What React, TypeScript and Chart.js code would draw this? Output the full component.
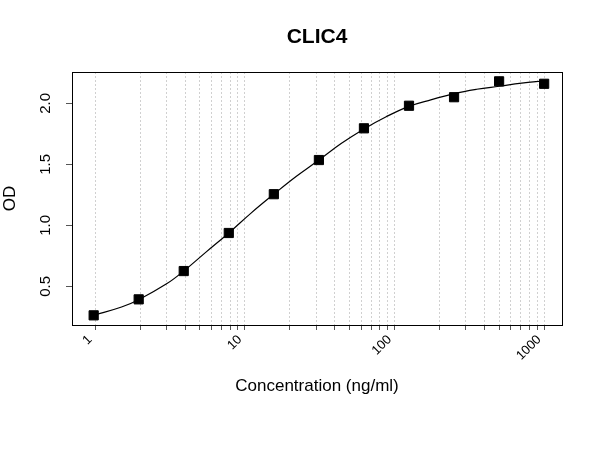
import React, { useEffect, useRef } from 'react';
import Chart from 'chart.js/auto';

// standard curve points (ng/ml, OD)
const concentrations = [1000, 500, 250, 125, 62.5, 31.25, 15.625, 7.8125, 3.906, 1.953, 0.977];
const odValues = [2.16, 2.18, 2.05, 1.98, 1.795, 1.535, 1.255, 0.937, 0.625, 0.393, 0.262];

// fitted curve
const curveX = [0.977, 1.5, 1.953, 3, 3.906, 5.5, 7.8125, 11, 15.625, 22, 31.25, 44, 62.5, 88, 125, 177, 250, 354, 500, 707, 1000];
const curveY = [0.262, 0.33, 0.39, 0.52, 0.625, 0.78, 0.937, 1.1, 1.255, 1.4, 1.535, 1.67, 1.79, 1.89, 1.975, 2.03, 2.08, 2.115, 2.14, 2.165, 2.185];

const xGridTicks = [1, 2, 3, 4, 5, 6, 7, 8, 9, 10, 20, 30, 40, 50, 60, 70, 80, 90, 100, 200, 300, 400, 500, 600, 700, 800, 900, 1000];
const xTickLabels = [1, 10, 100, 1000];
const yTicks = [0.5, 1.0, 1.5, 2.0];
const chartTitle = 'CLIC4';

// box around the plot region, plus the main title centred over it
const boxPlugin = {
  id: 'plotBox',
  afterDraw(chart: any) {
    const { ctx, chartArea: a } = chart;
    ctx.save();
    ctx.strokeStyle = '#000';
    ctx.lineWidth = 1;
    ctx.strokeRect(Math.round(a.left) + 0.5, Math.round(a.top) + 0.5, Math.round(a.right - a.left), Math.round(a.bottom - a.top));
    ctx.fillStyle = '#000';
    ctx.font = "bold 21px 'Liberation Sans', Arial, sans-serif";
    ctx.textAlign = 'center';
    ctx.textBaseline = 'middle';
    ctx.fillText(chartTitle, (a.left + a.right) / 2, 37);
    ctx.restore();
  }
};

const App: React.FC = () => {
  const canvasRef = useRef<HTMLCanvasElement>(null);

  useEffect(() => {
    if (!canvasRef.current) return;
    Chart.defaults.font.family = "'Liberation Sans', Arial, sans-serif";
    Chart.defaults.color = '#000';

    const chart = new Chart(canvasRef.current, {
      type: 'scatter',
      data: {
        datasets: [
          {
            type: 'line',
            data: curveX.map((x, i) => ({ x, y: curveY[i] })),
            borderColor: '#000',
            borderWidth: 1.2,
            pointRadius: 0,
            tension: 0.4,
            fill: false
          },
          {
            data: concentrations.map((x, i) => ({ x, y: odValues[i] })),
            pointStyle: 'rect',
            pointRadius: 6.5,
            backgroundColor: '#000',
            borderColor: '#000',
            borderWidth: 1
          }
        ]
      },
      options: {
        animation: false,
        responsive: false,
        layout: { padding: { top: 72, right: 38 } },
        plugins: {
          legend: { display: false },
          tooltip: { enabled: false },
          title: { display: false }
        },
        scales: {
          x: {
            type: 'logarithmic',
            min: 0.7367,
            max: 1316,
            afterBuildTicks: (scale: any) => {
              scale.ticks = xGridTicks.map(v => ({ value: v }));
            },
            afterFit: (scale: any) => {
              scale.height = 125;
            },
            ticks: {
              autoSkip: false,
              minRotation: 45,
              maxRotation: 45,
              padding: 2,
              labelOffset: -5,
              font: { size: 13 },
              callback: (v: any) => (xTickLabels.includes(Number(v)) ? String(v) : '')
            },
            grid: {
              color: '#d0d0d0',
              lineWidth: 1,
              tickLength: 5,
              tickColor: '#555',
              tickBorderDash: []
            },
            border: { color: '#000', width: 1, dash: [2, 2] },
            title: {
              display: true,
              text: 'Concentration (ng/ml)',
              font: { size: 17, lineHeight: 1.2 },
              padding: { top: 0, bottom: 53 }
            }
          },
          y: {
            min: 0.1828,
            max: 2.2566,
            afterBuildTicks: (scale: any) => {
              scale.ticks = yTicks.map(v => ({ value: v }));
            },
            afterFit: (scale: any) => {
              scale.width = 72;
            },
            ticks: {
              minRotation: 90,
              maxRotation: 90,
              crossAlign: 'center',
              padding: 10,
              font: { size: 15 },
              callback: (v: any) => Number(v).toFixed(1)
            },
            grid: {
              drawOnChartArea: false,
              tickLength: 6,
              tickColor: '#555'
            },
            border: { color: '#000', width: 1 },
            title: {
              display: true,
              text: 'OD',
              font: { size: 17, lineHeight: 1.2 },
              padding: { top: 0, bottom: 0 }
            }
          }
        }
      },
      plugins: [boxPlugin]
    });

    return () => chart.destroy();
  }, []);

  return (
    <div style={{ position: 'absolute', left: 0, top: 0, width: 600, height: 450, background: '#fff' }}>
      <canvas ref={canvasRef} width={600} height={450}></canvas>
    </div>
  );
};

export default App;
